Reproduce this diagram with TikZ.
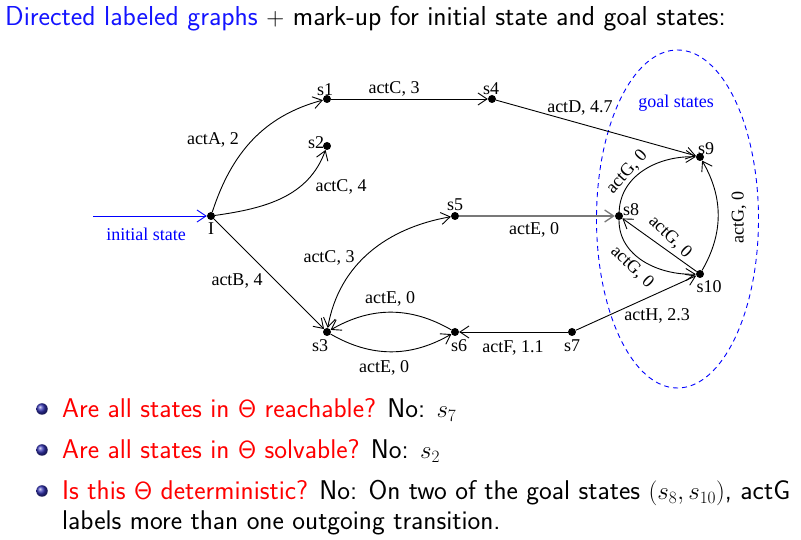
\documentclass[tikz,border=0pt]{standalone}
\usepackage[no-math]{fontspec}
\newfontfamily\lblfont{Liberation Serif}
\usetikzlibrary{arrows.meta,shapes.geometric}
\definecolor{structure}{RGB}{51,51,179}
\definecolor{titleblue}{RGB}{20,20,255}
\definecolor{edgegray}{RGB}{120,120,120}
\begin{document}
\begin{tikzpicture}[x=1pt,y=1pt,
  st/.style={circle,fill=black,inner sep=0pt,minimum size=8pt},
  tr/.style={-{Straight Barb[length=9pt,width=12pt]},line width=0.9pt},
  lab/.style={font=\lblfont\fontsize{18}{20}\selectfont,inner sep=0pt},
  txt/.style={font=\sffamily\fontsize{27.4}{31}\selectfont,anchor=base west,inner sep=0pt},
  btxt/.style={font=\sffamily\fontsize{27.1}{31}\selectfont,anchor=base west,inner sep=0pt},
  ball/.style={circle,inner sep=0pt,minimum size=11.5pt,shading=ball,ball color=structure}]
\useasboundingbox (0,0) rectangle (801,540);
% title
\node[txt] (title) at (5,514) {\textcolor{titleblue}{Directed labeled graphs} $+$ mark-up for initial state and goal states:};
% goal ellipse
\node[draw=blue,dash pattern=on 5pt off 4pt,line width=0.9pt,ellipse,minimum width=162pt,minimum height=338pt,inner sep=0pt] (goal) at (677.5,321) {};
\node[lab,text=blue] (goallab) at (676,437) {goal states};
% states
\node[st] (I) at (211,324) {};
\node[st] (s1) at (327,441) {};
\node[st] (s2) at (327,394) {};
\node[st] (s4) at (492,441) {};
\node[st] (s5) at (455,324) {};
\node[st] (s8) at (619,324) {};
\node[st] (s9) at (700,383) {};
\node[st] (s10) at (700,266) {};
\node[st] (s3) at (327,208) {};
\node[st] (s6) at (455,208) {};
\node[st] (s7) at (572,208) {};
% state labels
\node[lab] (lI) at (211,311) {I};
\node[lab] (l1) at (325,450) {s1};
\node[lab] (l2) at (316,397) {s2};
\node[lab] (l4) at (491,451) {s4};
\node[lab] (l5) at (455,335) {s5};
\node[lab] (l8) at (631,330) {s8};
\node[lab] (l9) at (706,391) {s9};
\node[lab] (l10) at (709,253) {s10};
\node[lab] (l3) at (320,194) {s3};
\node[lab] (l6) at (459,194) {s6};
\node[lab] (l7) at (572,194) {s7};
% initial arrow
\coordinate (ini) at (93,324);
\draw[tr,blue] (ini) -- (I);
\node[lab,text=blue] (inilab) at (146,306) {initial state};
% transitions
\draw[tr] (I) to[out=72,in=195] (s1);
\draw[tr] (I) to[out=8,in=250] (s2);
\draw[tr] (I) -- (s3);
\draw[tr] (s1) -- (s4);
\draw[tr] (s4) -- (s9);
\draw[tr,{Straight Barb[length=9pt,width=12pt]}-{Straight Barb[length=9pt,width=12pt]}] (s3) to[out=80,in=190] (s5);
\draw[tr,edgegray,line width=1.3pt] (s5) -- (s8);
\draw[tr] (s6) to[out=150,in=30] (s3);
\draw[tr] (s3) to[out=-30,in=-150] (s6);
\draw[tr] (s7) -- (s6);
\draw[tr] (s7) -- (s10);
\draw[tr] (s8) to[out=88,in=178] (s9);
\draw[tr] (s10) to[out=60,in=-60] (s9);
\draw[tr] (s10) -- (s8);
\draw[tr] (s8) to[out=-90,in=182] (s10);
% edge labels
\node[lab] (eA) at (213,400) {actA, 2};
\node[lab] (eC4) at (341,353) {actC, 4};
\node[lab] (eC3a) at (394,451) {actC, 3};
\node[lab] (eD) at (580,432) {actD, 4.7};
\node[lab] (eB) at (237,259) {actB, 4};
\node[lab] (eC3b) at (329,282) {actC, 3};
\node[lab] (eE1) at (534,310) {actE, 0};
\node[lab] (eE2) at (390,241) {actE, 0};
\node[lab] (eE3) at (384,172) {actE, 0};
\node[lab] (eF) at (513,192) {actF, 1.1};
\node[lab] (eH) at (657,224) {actH, 2.3};
\node[lab,rotate=48] (eG1) at (627,368) {actG, 0};
\node[lab,rotate=90] (eG2) at (739,322) {actG, 0};
\node[lab,rotate=-44] (eG3) at (670,303) {actG, 0};
\node[lab,rotate=-44] (eG4) at (632,273) {actG, 0};
% bullets
\node[ball] (b1) at (42,131) {};
\node[ball] (b2) at (42,90) {};
\node[ball] (b3) at (42,49) {};
\node[btxt] (t1) at (62,122) {\textcolor{red}{Are all states in $\mathsf{\Theta}$ reachable?} No: $s_7$};
\node[btxt] (t2) at (62,81) {\textcolor{red}{Are all states in $\mathsf{\Theta}$ solvable?} No: $s_2$};
\node[btxt] (t3) at (62,40) {\textcolor{red}{Is this $\mathsf{\Theta}$ deterministic?} No: On two of the goal states $(s_8,s_{10})$, actG};
\node[btxt] (t4) at (62,10) {labels more than one outgoing transition.};
\end{tikzpicture}
\end{document}
